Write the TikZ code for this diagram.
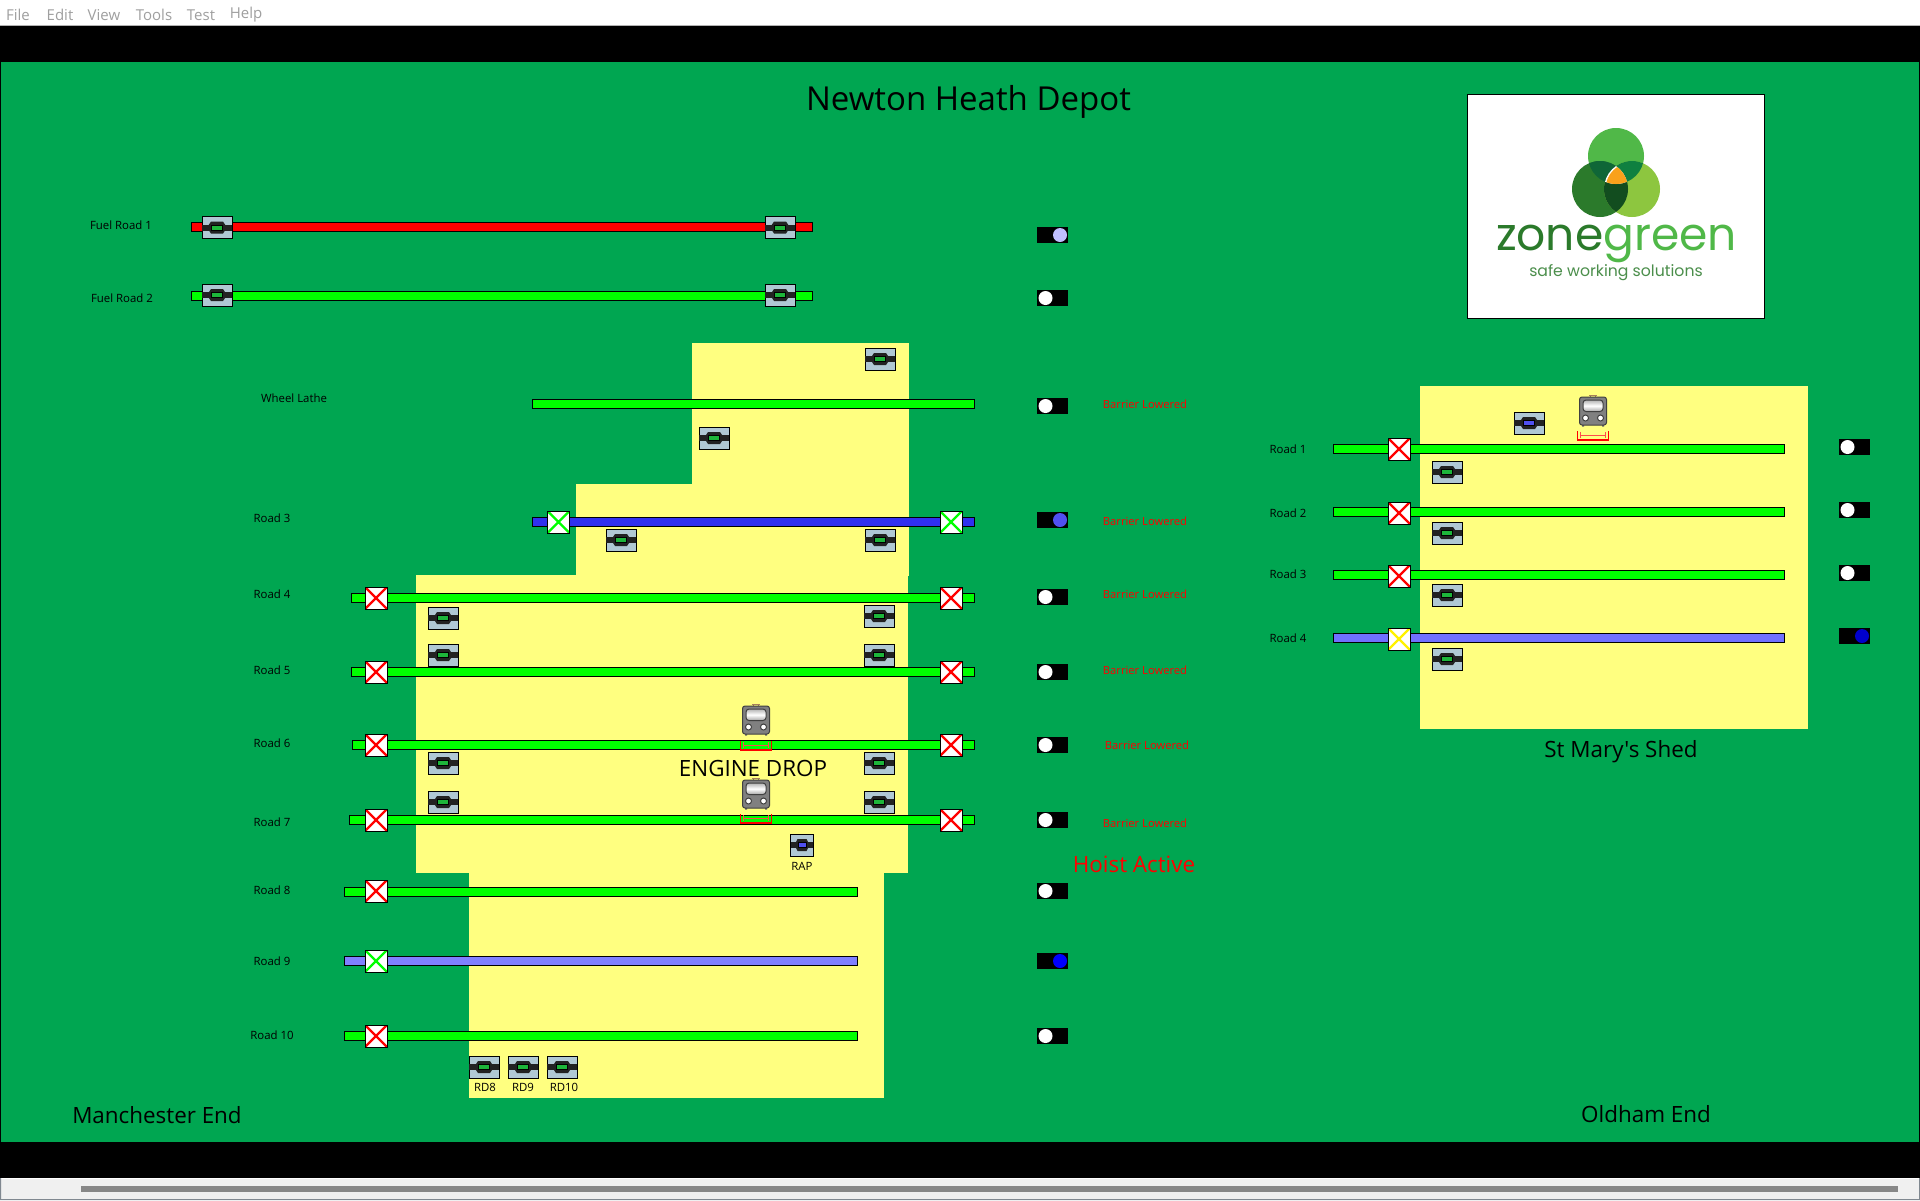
\documentclass[tikz,border=0pt]{standalone}
\usepackage{fontspec}
\setmainfont{Open Sans}
\newfontfamily\plainfont{Open Sans}
\newfontfamily\logofont{Poppins}
\definecolor{bggreen}{HTML}{00A651}
\definecolor{shedyellow}{HTML}{FFFF80}
\definecolor{trackgreen}{HTML}{00FF00}
\definecolor{trackblue}{HTML}{3030F0}
\definecolor{tracklilac}{HTML}{8080FF}
\definecolor{tracklilacb}{HTML}{7070FF}
\definecolor{iconblue}{HTML}{B0C8D4}
\definecolor{icondark}{HTML}{222222}
\definecolor{lampgreen}{HTML}{1DB53A}
\definecolor{lampblue}{HTML}{5050F0}
\definecolor{logotop}{HTML}{50B848}
\definecolor{logoleft}{HTML}{2B7A2B}
\definecolor{logoright}{HTML}{8DC63F}
\definecolor{logotl}{HTML}{0F6637}
\definecolor{logotr}{HTML}{0F8040}
\definecolor{logolr}{HTML}{124D1F}
\definecolor{logoorange}{HTML}{F9A11B}
\definecolor{edgegray}{HTML}{808890}
\tikzset{
  lbl/.style={font=\fontsize{11.4}{14}\selectfont,text=black,inner sep=0pt},
  bigl/.style={font=\fontsize{22.4}{28}\selectfont,text=black,inner sep=0pt},
  warn/.style={font=\fontsize{11.2}{14}\selectfont,text=red,inner sep=0pt},
  track/.style={draw=black,line width=1pt},
  barrier/.style={draw=black,line width=1pt,fill=white,minimum width=22pt,minimum height=22pt,inner sep=0pt,
    path picture={\draw[#1,line width=2.4pt] (path picture bounding box.north west) -- (path picture bounding box.south east)
      (path picture bounding box.north east) -- (path picture bounding box.south west);}},
  barrier/.default=red,
  pics/shunter/.style={code={
    \fill[iconblue,draw=black,line width=1pt] (-15,-11) rectangle (15,11);
    \fill[icondark] (-15,-3) rectangle (15,3);
    \fill[icondark] (-10,0) -- (-6,-6) -- (6,-6) -- (10,0) -- (6,6) -- (-6,6) -- cycle;
    \fill[#1,draw=black,line width=.7pt] (-5.5,-2.6) rectangle (5.5,2.6);}},
  pics/shunter/.default=lampgreen,
  pics/loco/.style={code={
    \draw[brown!60!gray,line width=1.5pt] (-4,-15.5) -- (4,-15.5) (-2.5,-15) -- (-2.5,-14) (2.5,-15) -- (2.5,-14);
    \fill[black!60] (-11,14) rectangle (-9,15.5) (9,14) rectangle (11,15.5);
    \fill[black!50,draw=black!75,line width=1pt,rounded corners=2.5pt] (-13.5,-14) rectangle (13.5,14);
    \shade[top color=gray!60,bottom color=gray!70,middle color=white,draw=black!75,line width=1pt,rounded corners=3pt] (-10,-11) rectangle (10,0.5);
    \fill[white,draw=black!75,line width=1pt] (-7.5,7) circle[radius=3];
    \fill[white,draw=black!75,line width=1pt] (7.5,7) circle[radius=3];}},
  pics/bracket/.style={code={
    \draw[red,line width=1.4pt] (-15.5,0) -- (-15.5,9) -- (15.5,9) -- (15.5,0);
    \draw[red!70!white,line width=1pt] (-12.5,1) -- (-12.5,7) (12.5,1) -- (12.5,7) (-12.5,4) -- (12.5,4);}},
  pics/lamp/.style args={#1/#2}{code={
    \fill[black] (-15.5,-8) rectangle (15.5,8);
    \fill[#2] (#1,0) circle[radius=7];}}
}
\begin{document}
\begin{tikzpicture}[x=1pt,y=-1pt]
\useasboundingbox (0,0) rectangle (1920,1200);
% window
\fill[white] (0,0) rectangle (1920,1200);
\fill[black] (0,26) rectangle (1920,1178);
\fill[bggreen] (1,62) rectangle (1919,1142);
\draw[gray!60] (0,25.5) -- (1920,25.5);
\fill[black!6] (0,1179) rectangle (1920,1200);
\fill[black!47] (81,1186) rectangle (1898,1192);
\fill[edgegray] (0,1178) rectangle (1,1200) (1919,1178) rectangle (1920,1200) (0,1199) rectangle (1920,1200);
\foreach \name/\xx in {File/18,Edit/60,View/104,Tools/154,Test/201,Help/246}
  \node[font=\fontsize{15}{17}\selectfont,text=gray!75,inner sep=0pt] (menu\name) at (\xx,15) {\name};
% sheds
\fill[shedyellow] (692,343) rectangle (909,484);
\fill[shedyellow] (576,484) rectangle (909,576);
\fill[shedyellow] (416,575) rectangle (908,873);
\fill[shedyellow] (469,873) rectangle (884,1098);
\fill[shedyellow] (1420,386) rectangle (1808,729);
% tracks
\foreach \xa/\xb/\yy/\col in {191/812/227/red,191/812/296/trackgreen,532/974/403.5/trackgreen,532/974/521.5/trackblue,
  351/974/597.5/trackgreen,351/974/672/trackgreen,352/974/745/trackgreen,349/974/819.5/trackgreen,
  344/857/891.5/trackgreen,344/857/961/tracklilac,344/857/1036/trackgreen,
  1333/1784/449/trackgreen,1333/1784/512/trackgreen,1333/1784/574.5/trackgreen,1333/1784/637.5/tracklilacb}
  \draw[track,fill=\col] (\xa,\yy-4.5) rectangle (\xb,\yy+4.5);
% barriers
\node[barrier=trackgreen] (bar3l) at (558.5,522) {};
\node[barrier=trackgreen] (bar3r) at (951,522) {};
\foreach \nm/\yy in {4/598,5/672,6/745,7/820}{
  \node[barrier] (bar\nm l) at (376,\yy) {};
  \node[barrier] (bar\nm r) at (951,\yy) {};
}
\node[barrier] (bar8) at (376,891) {};
\node[barrier=trackgreen] (bar9) at (376,961) {};
\node[barrier] (bar10) at (376,1036) {};
\node[barrier] (smbar1) at (1399,449) {};
\node[barrier] (smbar2) at (1399,513) {};
\node[barrier] (smbar3) at (1399,576) {};
\node[barrier=yellow] (smbar4) at (1399,639) {};
% shunters
\foreach \xx/\yy in {217/227.5,780/227.5,217/295,780/295,880/359,714/438,621/540,880/540,443/618,879/616,
  443/655,879/655,443/763,879/763,443/802,879/802,484/1067,523/1067,562/1067,1447/472,1447/533,1447/595,1447/659}
  \pic at (\xx,\yy) {shunter};
\pic[xscale=.75] at (802,845) {shunter=lampblue};
\pic at (1529,423) {shunter=lampblue};
% locos
\foreach \xx/\yy in {756/720,756/794,1593/411}
  \pic at (\xx,\yy) {loco};
\pic at (756,741) {bracket};
\pic at (756,814) {bracket};
\pic at (1593,431) {bracket};
% signals
\foreach \yy in {298,406,597,672,745,820,891,1036}
  \pic at (1052,\yy) {lamp={-6.5}/white};
\pic at (1052,235) {lamp={8}/blue!25};
\pic at (1052,520) {lamp={8}/lampblue};
\pic at (1052,961) {lamp={8}/blue};
\foreach \yy in {447,510,573}
  \pic at (1854,\yy) {lamp={-6.5}/white};
\pic at (1854,636) {lamp={8}/blue!80!black};
% labels
\node[lbl] (fuel1) at (121,225) {Fuel Road 1};
\node[lbl] (fuel2) at (122,298) {Fuel Road 2};
\node[lbl] (wheel) at (294,398) {Wheel Lathe};
\foreach \nm/\yy in {3/518,4/594,5/670,6/743,7/822,8/890,9/961,10/1035}
  \node[lbl] (road\nm) at (272,\yy) {Road \nm};
\foreach \nm/\yy in {1/449,2/513,3/574,4/638}
  \node[lbl] (smroad\nm) at (1288,\yy) {Road \nm};
\foreach \nm/\xx/\yy in {1/1145/404,2/1145/521,3/1145/594,4/1145/670,5/1147/745,6/1145/823}
  \node[warn] (lowered\nm) at (\xx,\yy) {Barrier Lowered};
\node[lbl] (rap) at (802,866) {RAP};
\node[lbl] (rd8) at (485,1087) {RD8};
\node[lbl] (rd9) at (523,1087) {RD9};
\node[lbl] (rd10) at (564,1087) {RD10};
\node[bigl,text=red] (hoist) at (1134,864) {Hoist Active};
\node[bigl] (enginedrop) at (753,768) {ENGINE DROP};
\node[bigl,font=\fontsize{33}{38}\selectfont] (title) at (968.5,102) {Newton Heath Depot};
\node[bigl] (manchester) at (157,1115) {Manchester End};
\node[bigl] (oldham) at (1646,1114) {Oldham End};
\node[bigl] (stmary) at (1621,752) {\plainfont St Mary's Shed};
% logo
\draw[black,fill=white,line width=.8pt] (1467,94) rectangle (1764,318);
\fill[logotop] (1616,156) circle[radius=28];
\fill[logoleft] (1600,189) circle[radius=28];
\fill[logoright] (1632,189) circle[radius=28];
\begin{scope}
  \clip (1616,156) circle[radius=28];
  \fill[logotl] (1600,189) circle[radius=28];
\end{scope}
\begin{scope}
  \clip (1616,156) circle[radius=28];
  \fill[logotr] (1632,189) circle[radius=28];
\end{scope}
\begin{scope}
  \clip (1600,189) circle[radius=28];
  \fill[logolr] (1632,189) circle[radius=28];
\end{scope}
\begin{scope}
  \clip (1616,156) circle[radius=28];
  \clip (1600,189) circle[radius=28];
  \fill[white] (1632,189) circle[radius=28];
  \fill[logoorange] (1632,189) circle[radius=26.5];
\end{scope}
\node[font=\logofont\fontsize{45.6}{50}\selectfont,inner sep=0pt,text=logoleft] (zone) at (1616.5,244) {zone\textcolor{logotop}{green}};
\node[font=\logofont\fontsize{15.7}{19}\selectfont,inner sep=0pt,text=logoleft!85!white] (safe) at (1616,273) {safe working solutions};
\end{tikzpicture}
\end{document}
